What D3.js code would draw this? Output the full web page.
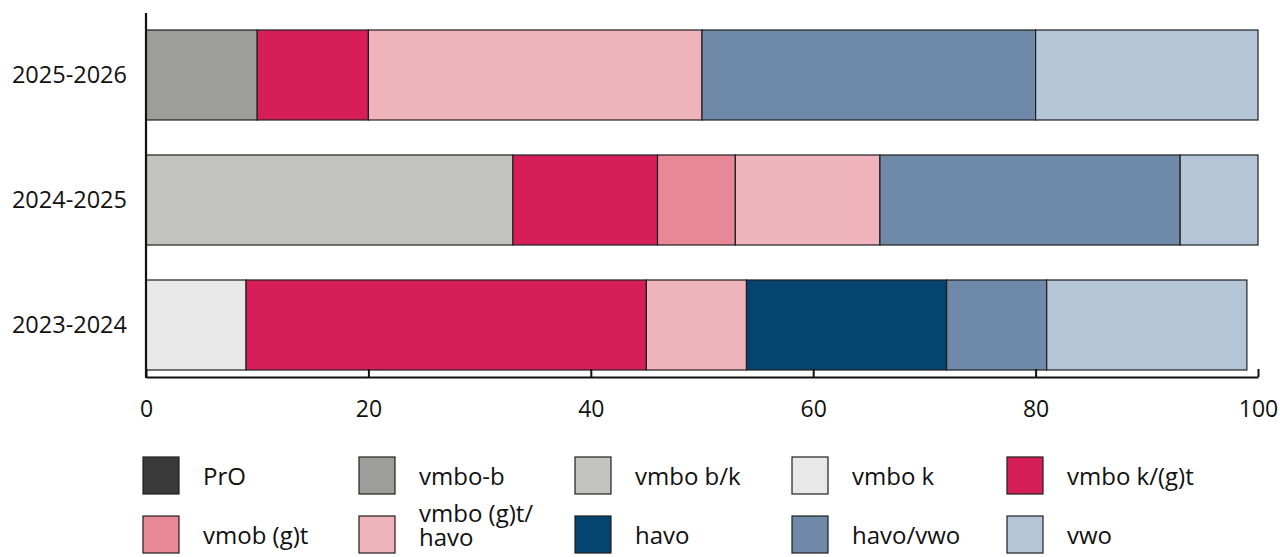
<!DOCTYPE html>
<html>
<head>
<meta charset="utf-8">
<script src="https://cdn.jsdelivr.net/npm/d3@7"></script>
<style>
  body { margin: 0; background: #fff; }
  svg { display: block; font-family: "Open Sans", "Noto Sans", sans-serif; }
</style>
</head>
<body>
<div id="chart"></div>
<script>
// years from top to bottom
var years = ["2025-2026", "2024-2025", "2023-2024"];
var categories = ["PrO", "vmbo-b", "vmbo b/k", "vmbo k", "vmbo k/(g)t",
                  "vmob (g)t", "vmbo (g)t/havo", "havo", "havo/vwo", "vwo"];
var colors = ["#3a3a3a", "#9d9d9c", "#c3c3c1", "#e8e8e8", "#d61e5b",
              "#e88795", "#efb3bb", "#05446f", "#6e8aa8", "#b4c5d8"];
// values per category, in the order of years
var pro        = [0, 0, 0];
var vmboB      = [10, 0, 0];
var vmboBK     = [0, 33, 0];
var vmboK      = [0, 0, 9];
var vmboKGT    = [10, 13, 36];
var vmobGT     = [0, 7, 0];
var vmboGTHavo = [30, 13, 9];
var havo       = [0, 0, 18];
var havoVwo    = [30, 27, 9];
var vwo        = [20, 7, 18];
var xTicks = [0, 20, 40, 60, 80, 100];

var series = [pro, vmboB, vmboBK, vmboK, vmboKGT, vmobGT, vmboGTHavo, havo, havoVwo, vwo];

var table = years.map(function(y, i) {
    var row = {year: y};
    categories.forEach(function(c, j) { row[c] = series[j][i]; });
    return row;
});

var svgwidth = 1280, svgheight = 557;
var svg = d3.select("#chart").append("svg")
    .attr("width", svgwidth)
    .attr("height", svgheight);

var x = d3.scaleLinear().domain([0, 100]).range([146, 1258]);
var y = d3.scaleBand().domain(years).range([12.5, 387.5])
    .paddingInner(0.28).paddingOuter(0.14);
var color = d3.scaleOrdinal().domain(categories).range(colors);
var axisY = 377;

var stack = d3.stack().keys(categories);
var stacked = stack(table);

var layers = svg.append("g").selectAll("g")
    .data(stacked)
    .enter().append("g")
    .attr("fill", function(d) { return color(d.key); });

// skip empty segments so they leave no stray border
layers.selectAll("rect")
    .data(function(d) { return d.filter(function(p) { return p[1] - p[0] > 0; }); })
    .enter().append("rect")
    .attr("x", function(d) { return x(d[0]); })
    .attr("y", function(d) { return y(d.data.year); })
    .attr("width", function(d) { return x(d[1]) - x(d[0]); })
    .attr("height", y.bandwidth())
    .attr("stroke", "#1e1e1e")
    .attr("stroke-width", 1.2);

// x axis with inward ticks
var xAxis = d3.axisBottom(x).tickValues(xTicks).tickSize(-8).tickPadding(24).tickSizeOuter(0);
var xAxisg = svg.append("g")
    .attr("transform", "translate(0," + axisY + ")")
    .call(xAxis);
xAxisg.select(".domain").attr("stroke", "#111").attr("stroke-width", 2.2);
xAxisg.selectAll(".tick line").attr("stroke", "#111").attr("stroke-width", 2);
xAxisg.selectAll(".tick text")
    .attr("font-size", 23)
    .attr("font-family", "'Open Sans', 'Noto Sans', sans-serif")
    .attr("fill", "#111");

// y axis line and labels
svg.append("line")
    .attr("x1", x(0)).attr("x2", x(0))
    .attr("y1", 13).attr("y2", axisY + 1)
    .attr("stroke", "#111").attr("stroke-width", 2.2);

svg.append("g").selectAll("text")
    .data(years)
    .enter().append("text")
    .attr("x", 127)
    .attr("y", function(d) { return y(d) + y.bandwidth() / 2; })
    .attr("dy", "0.36em")
    .attr("text-anchor", "end")
    .attr("font-size", 23.5)
    .attr("fill", "#111")
    .text(function(d) { return d; });

// legend, two rows of five
var colX = [143, 359, 575, 792, 1007];
var rowY = [457, 516];
var legend = svg.append("g").selectAll("g")
    .data(categories)
    .enter().append("g")
    .attr("transform", function(d, i) {
        return "translate(" + colX[i % 5] + "," + rowY[Math.floor(i / 5)] + ")";
    });

legend.append("rect")
    .attr("width", 36).attr("height", 37)
    .attr("fill", function(d) { return color(d); })
    .attr("stroke", "#1e1e1e").attr("stroke-width", 1.2);

legend.append("text")
    .attr("x", 60)
    .attr("y", 28)
    .attr("font-size", 24)
    .attr("fill", "#111")
    .each(function(d) {
        var t = d3.select(this);
        if (d === "vmbo (g)t/havo") {
            // wrapped on two lines as in the original
            t.attr("y", 6);
            t.append("tspan").attr("x", 60).text("vmbo (g)t/");
            t.append("tspan").attr("x", 60).attr("dy", 24).text("havo");
        } else {
            t.text(d);
        }
    });
</script>
</body>
</html>
